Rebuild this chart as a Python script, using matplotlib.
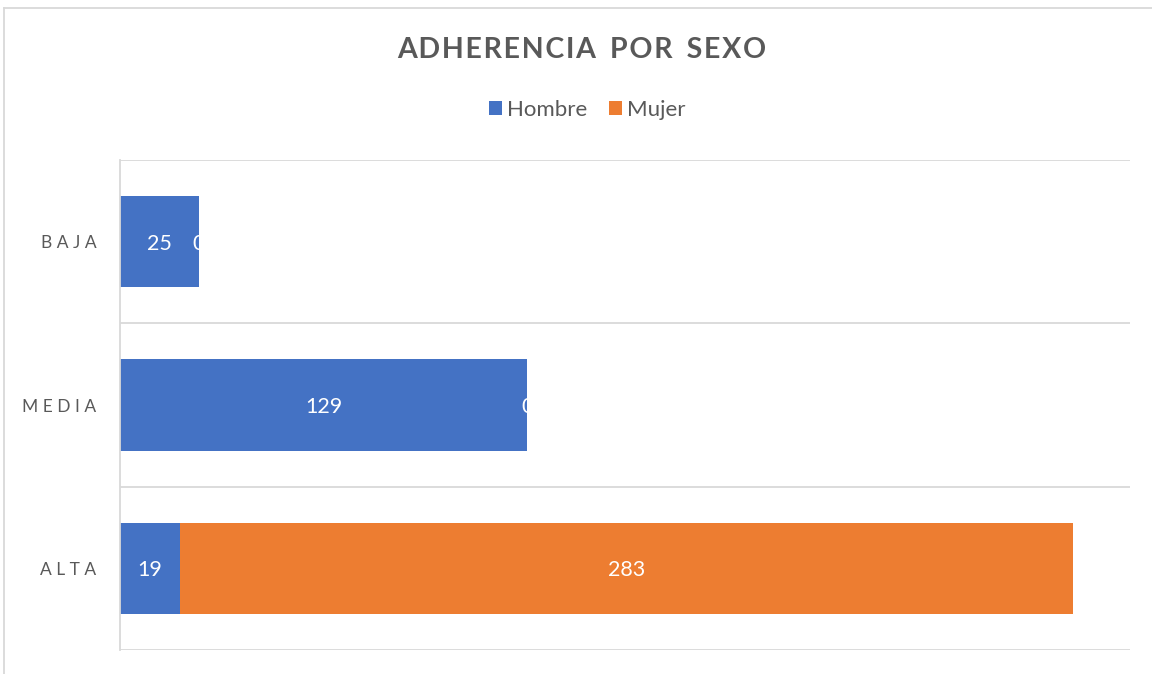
import matplotlib.pyplot as plt
from matplotlib.lines import Line2D
import numpy as np

plt.rcParams['font.family'] = ['Lato', 'DejaVu Sans']

categories = ['ALTA', 'MEDIA', 'BAJA']
hombre = [19, 129, 25]
mujer = [283, 0, 0]

blue = '#4472C4'
orange = '#ED7D31'
grey_text = '#595959'
grid_col = '#D9D9D9'

fig = plt.figure(figsize=(11.52, 6.74), dpi=100)
ax = fig.add_axes([120 / 1152, 1 - 650 / 674, 1010 / 1152, 490 / 674])

y = np.arange(len(categories))
h = 0.56
b1 = ax.barh(y, hombre, height=h, color=blue, label='Hombre')
b2 = ax.barh(y, mujer, height=h, left=hombre, color=orange, label='Mujer')

# data labels, white, centered in each segment (zero segments too, like excel)
for bars in (b1, b2):
    for r in bars:
        w = r.get_width()
        ax.annotate(str(int(w)), (r.get_x() + w / 2, r.get_y() + r.get_height() / 2),
                    xytext=(0, -2), textcoords='offset pixels',
                    ha='center', va='center', color='white', fontsize=15.5)

ax.set_xlim(0, 320)
ax.set_ylim(-0.5, 2.5)
ax.set_xticks([])
ax.set_yticks(y)
ax.set_yticklabels([' '.join(c) for c in categories], color=grey_text, fontsize=12.5)
ax.tick_params(axis='y', length=0, pad=17)

# category separators
for yy in np.arange(-0.5, 3.0, 1.0):
    ax.axhline(yy, color=grid_col, lw=1.3, zorder=0)
for s in ['top', 'right', 'bottom']:
    ax.spines[s].set_visible(False)
ax.spines['left'].set_color(grid_col)
ax.spines['left'].set_linewidth(1.3)

title = 'ADHERENCIA POR SEXO'
spaced = '\u200a'.join(title).replace('\u200a \u200a', '\u2009 \u2009')
fig.text(582 / 1152, 1 - 50 / 674, spaced,
         ha='center', va='center', fontsize=20.5, fontweight='bold', color=grey_text)

fig.legend(handles=[b1, b2], loc='center', bbox_to_anchor=(587 / 1152, 1 - 110 / 674), ncol=2,
           frameon=False, fontsize=16, handlelength=0.6, handleheight=0.6,
           handletextpad=0.2, columnspacing=1.0, labelcolor=grey_text)

# chart area border (partly cropped in the reference)
fig.add_artist(Line2D([4 / 1152, 4 / 1152], [0, 1 - 8 / 674], color=grid_col, lw=1.3))
fig.add_artist(Line2D([4 / 1152, 1], [1 - 8 / 674, 1 - 8 / 674], color=grid_col, lw=1.3))

fig.savefig('out.png', dpi=100)
